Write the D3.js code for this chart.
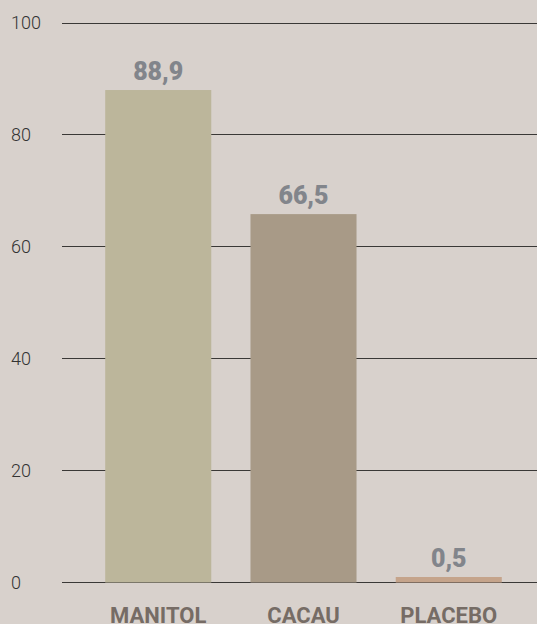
<!DOCTYPE html>
<html lang="pt">
<head>
    <meta charset="UTF-8">
    <title>Manitol / Cacau / Placebo</title>
    <script src="https://d3js.org/d3.v7.min.js"></script>
    <style>
        body { margin: 0; background: #d8d1cc; }
        .tick-label { font-family: "Roboto", sans-serif; font-weight: 300; font-size: 18px; fill: #333; }
        .value-label { font-family: "Roboto", sans-serif; font-weight: 900; font-size: 25px; fill: #82858b; }
        .cat-label { font-family: "Roboto", sans-serif; font-weight: 700; font-size: 22px; fill: #766c65; }
        .grid line { stroke: #3a3836; stroke-width: 1px; }
    </style>
</head>
<body>
    <div id="chart"></div>
    <script>
        // dados
        const categories = ['MANITOL', 'CACAU', 'PLACEBO'];
        const values = [88.9, 66.5, 0.5];
        const barColors = ['#bcb69b', '#a89a87', '#c5a48b'];
        const ticks = [0, 20, 40, 60, 80, 100];

        const width = 537, height = 624;

        const svg = d3.select('#chart').append('svg')
            .attr('width', width)
            .attr('height', height);

        svg.append('rect')
            .attr('width', width)
            .attr('height', height)
            .attr('fill', '#d8d1cc');

        // escalas (as barras do original ficam um pouco abaixo da grade)
        const y = d3.scaleLinear().domain([0, 100]).range([582.5, 23]);
        const yBar = d3.scaleLinear().domain([0, 101]).range([582.5, 23]);
        const x = d3.scaleBand()
            .domain(categories)
            .range([66, 541])
            .paddingInner(0.27)
            .paddingOuter(0.27);

        // linhas de grade (alinhadas ao pixel)
        const crisp = v => Math.floor(v) + 0.5;
        const grid = svg.append('g').attr('class', 'grid');
        grid.selectAll('line')
            .data(ticks)
            .enter().append('line')
            .attr('x1', 62)
            .attr('x2', width)
            .attr('y1', d => crisp(y(d)))
            .attr('y2', d => crisp(y(d)));

        // rótulos do eixo y
        svg.append('g')
            .selectAll('text')
            .data(ticks)
            .enter().append('text')
            .attr('class', 'tick-label')
            .attr('x', 11)
            .attr('y', d => y(d))
            .attr('dy', '0.35em')
            .text(d => d);

        // barras (altura mínima para a barra do placebo ficar visível)
        const barTop = d => Math.min(yBar(d), yBar(0) - 5.5);
        svg.append('g')
            .selectAll('rect')
            .data(values)
            .enter().append('rect')
            .attr('x', (d, i) => x(categories[i]))
            .attr('width', x.bandwidth())
            .attr('y', d => barTop(d))
            .attr('height', d => yBar(0) - barTop(d))
            .attr('fill', (d, i) => barColors[i]);

        // valores acima das barras
        const fmt = d => d.toFixed(1).replace('.', ',');
        svg.append('g')
            .selectAll('text')
            .data(values)
            .enter().append('text')
            .attr('class', 'value-label')
            .attr('text-anchor', 'middle')
            .attr('x', (d, i) => x(categories[i]) + x.bandwidth() / 2)
            .attr('y', d => barTop(d) - 10)
            .text(fmt);

        // categorias
        svg.append('g')
            .selectAll('text')
            .data(categories)
            .enter().append('text')
            .attr('class', 'cat-label')
            .attr('text-anchor', 'middle')
            .attr('x', d => x(d) + x.bandwidth() / 2)
            .attr('y', 623)
            .text(d => d);
    </script>
</body>
</html>
